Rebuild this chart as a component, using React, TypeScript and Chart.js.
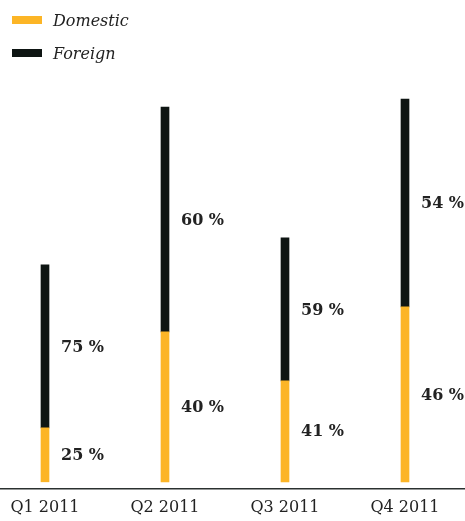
import React, { useEffect, useRef } from "react";
import { Chart, registerables } from "chart.js";

Chart.register(...registerables);

const categories = ["Q1 2011", "Q2 2011", "Q3 2011", "Q4 2011"];
const domestic = [54, 150, 101, 175];
const foreign = [163, 225, 143, 208];
const domesticLabels = ["25 %", "40 %", "41 %", "46 %"];
const foreignLabels = ["75 %", "60 %", "59 %", "54 %"];

const ORANGE = "#FCB526";
const BLACK = "#0E1513";
const SERIF = "'DejaVu Serif', serif";

const segmentLabels = {
  id: "segmentLabels",
  afterDatasetsDraw(chart: any) {
    const ctx = chart.ctx;
    ctx.save();
    ctx.font = `bold 16px ${SERIF}`;
    ctx.fillStyle = "#222";
    ctx.textBaseline = "middle";
    ctx.textAlign = "left";
    const sets = [domesticLabels, foreignLabels];
    chart.data.datasets.forEach((_ds: any, di: number) => {
      const meta = chart.getDatasetMeta(di);
      meta.data.forEach((bar: any, i: number) => {
        const top = Math.min(bar.y, bar.base);
        const bottom = Math.max(bar.y, bar.base);
        ctx.fillText(sets[di][i], bar.x + 16, (top + bottom) / 2 + 1);
      });
    });
    // baseline axis line across full width
    const y = chart.chartArea.bottom;
    ctx.strokeStyle = "#2b3130";
    ctx.lineWidth = 1.5;
    ctx.beginPath();
    ctx.moveTo(0, y);
    ctx.lineTo(chart.width, y);
    ctx.stroke();
    ctx.restore();
  },
};

export default function App() {
  const ref = useRef<HTMLCanvasElement>(null);
  useEffect(() => {
    document.body.style.margin = "0";
    const chart = new Chart(ref.current!, {
      type: "bar",
      data: {
        labels: categories,
        datasets: [
          { label: "Domestic", data: domestic, backgroundColor: ORANGE, barThickness: 8, clip: false as any },
          { label: "Foreign", data: foreign, backgroundColor: BLACK, barThickness: 8, clip: false as any },
        ],
      },
      options: {
        animation: false,
        responsive: false,
        layout: { padding: { top: 90, left: 45, right: 60, bottom: -5 } },
        plugins: { legend: { display: false }, tooltip: { enabled: false } },
        scales: {
          x: {
            stacked: true,
            offset: false,
            grid: { display: false, drawTicks: false },
            border: { display: false },
            ticks: { color: "#222", font: { family: SERIF, size: 16 }, padding: 9, maxRotation: 0, autoSkip: false },
          },
          y: {
            stacked: true,
            display: false,
            min: -7,
            max: 392,
          },
        },
      },
      plugins: [segmentLabels],
    });
    return () => chart.destroy();
  }, []);

  const legendItem = (color: string, text: string, top: number) => (
    <div style={{ position: "absolute", left: 12, top, display: "flex", alignItems: "center", height: 20 }}>
      <span style={{ display: "inline-block", width: 30, height: 8, background: color, marginRight: 11 }} />
      <span style={{ fontFamily: SERIF, fontStyle: "italic", fontSize: 16, color: "#222" }}>{text}</span>
    </div>
  );

  return (
    <div style={{ position: "relative", width: 465, height: 521 }}>
      {legendItem(ORANGE, "Domestic", 10)}
      {legendItem(BLACK, "Foreign", 43)}
      <canvas ref={ref} width={465} height={521} style={{ display: "block" }} />
    </div>
  );
}
